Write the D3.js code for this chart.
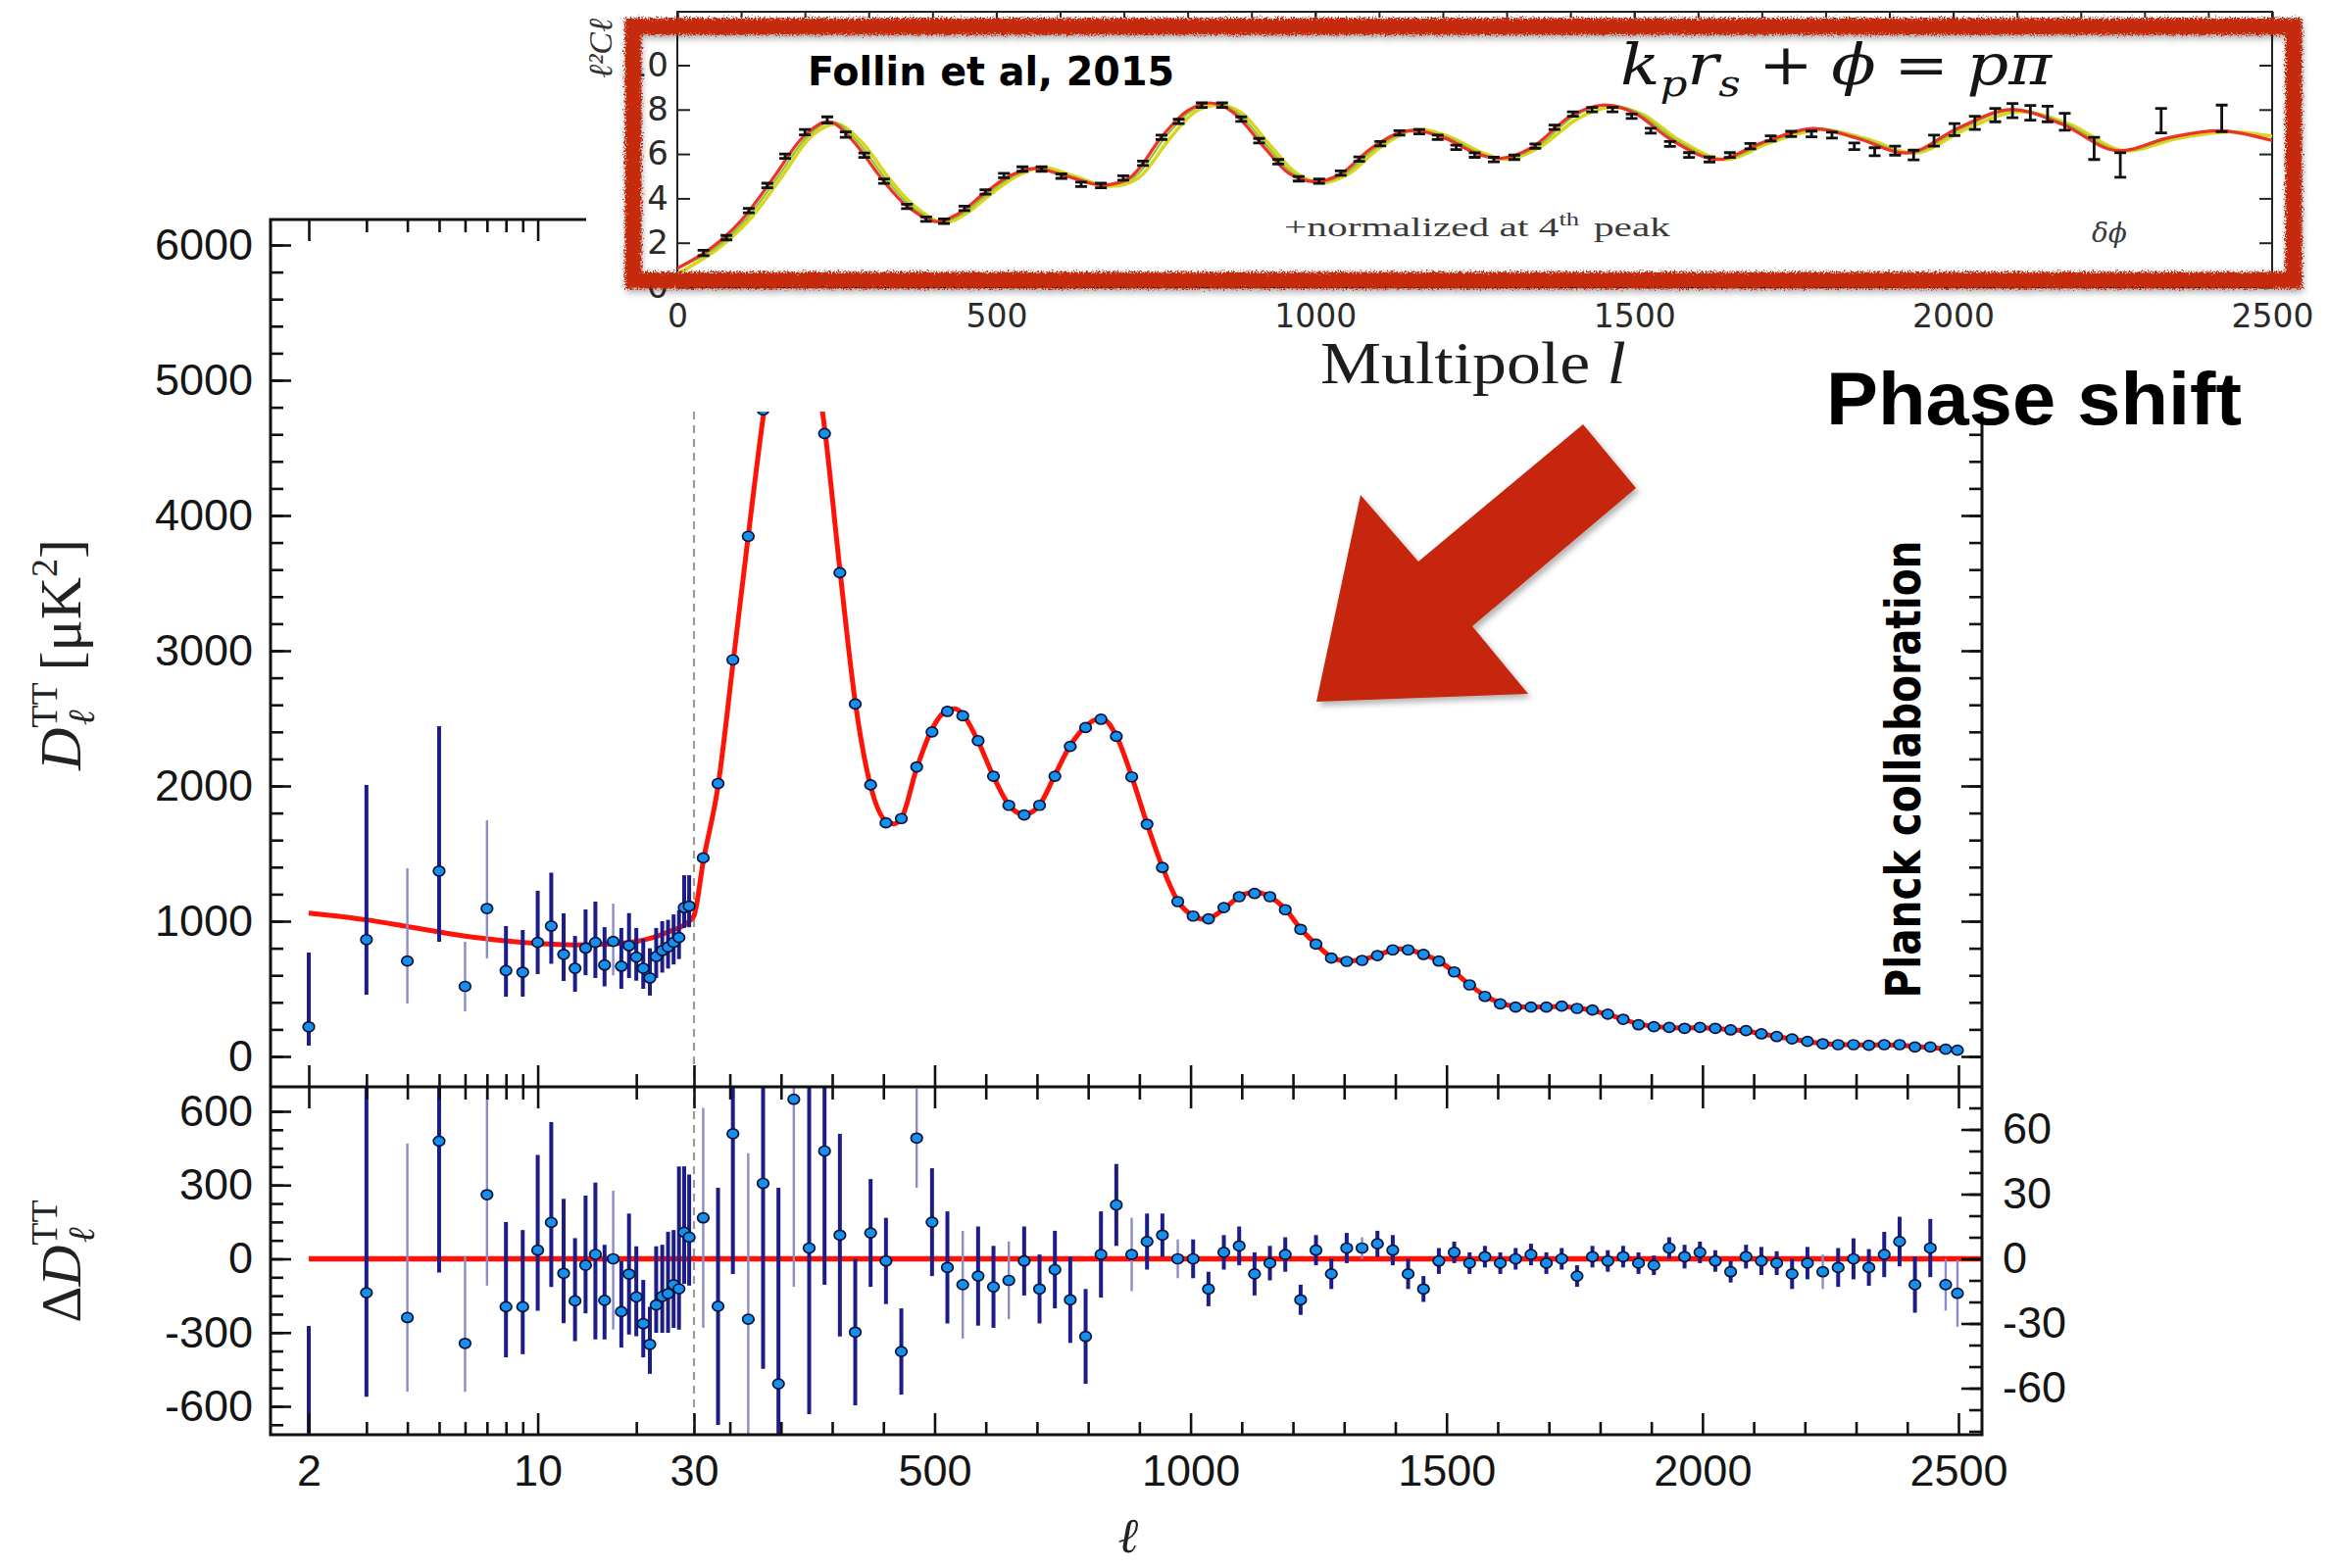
<!DOCTYPE html>
<html>
<head>
<meta charset="utf-8">
<title>CMB temperature power spectrum and acoustic phase shift</title>
<script src="https://cdn.jsdelivr.net/npm/d3@7/dist/d3.min.js"></script>
<style>
  html, body { margin: 0; padding: 0; background: #ffffff; }
  svg { display: block; }
</style>
</head>
<body>
<svg id="chart" width="2375" height="1600" xmlns="http://www.w3.org/2000/svg"></svg>
<script>
// ---------------- Planck TT spectrum: low-ℓ (2–29) unbinned points ----------------
const lowL     = [2,3,4,5,6,7,8,9,10,11,12,13,14,15,16,17,18,19,20,21,22,23,24,25,26,27,28,29];
const lowD     = [219,864,706,1371,518,1094,635,623,843,964,755,652,801,843,676,851,667,819,735,652,580,739,783,809,843,880,1100,1112];
const lowDLo   = [80,457,391,848,333,725,442,442,609,685,558,478,601,580,518,600,500,580,560,500,450,580,620,650,680,720,950,955];
const lowDHi   = [768,2007,1391,2442,848,1746,964,935,1225,1359,1058,891,1087,1145,956,1130,950,1060,950,870,800,950,1000,1010,1050,1080,1340,1340];
const lowRes   = [-840,-138,-239,479,-344,261,-195,-195,35,148,-59,-171,-26,18,-169,0,-215,-62,-155,-264,-348,-188,-153,-142,-105,-122,108,88];
const lowResLo = [-1400,-561,-541,-56,-541,-109,-401,-388,-211,-115,-262,-335,-222,-328,-328,-288,-361,-308,-315,-401,-468,-301,-301,-301,-281,-288,-102,-109];
const lowResHi = [-273,997,469,1400,11,900,150,117,423,556,244,84,257,310,57,277,-9,184,51,-86,-195,51,57,110,117,376,376,343];
const lowFaint = [4,6,7,17];

// ---------------- Planck TT spectrum: binned points (ℓ ≥ 30) ----------------
const highL = [48,77,106,136,165,195,225,255,285,315,345,375,405,435,465,495,525,555,585,615,645,675,705,735,765,795,825,855,885,915,945,975,1005,1035,1065,1095,1125,1155,1185,1215,1245,1275,1305,1335,1365,1395,1425,1455,1485,1515,1545,1575,1605,1635,1665,1695,1725,1755,1785,1815,1845,1875,1905,1935,1965,1995,2025,2055,2085,2115,2145,2175,2205,2235,2265,2295,2325,2355,2385,2415,2445,2475,2498];
const highD = [1468,2018,2933,3846,4780,5420,5710,5500,4606,3577,2606,2008,1727,1759,2141,2399,2551,2519,2335,2072,1857,1785,1857,2072,2293,2432,2493,2367,2067,1717,1397,1145,1038,1017,1101,1181,1205,1181,1085,940,831,727,703,710,746,788,788,754,705,625,529,444,389,365,365,365,372,355,343,312,275,234,220,215,208,215,208,196,191,167,147,130,111,94,87,87,82,87,87,70,70,53,46];
const highRes = [19,-22,58,-28,35,-58,74,5,50,11,-34,12,-1,-43,56,17,-4,-12,-8,-13,-10,-1,-14,-5,-19,-36,2,25,2,8,11,0,0,-14,3,6,-7,-2,2,-19,4,-7,5,5,7,4,-7,-14,-1,3,-2,1,-2,0,2,-2,0,-8,1,-1,1,-2,-3,5,1,3,-1,-6,1,-1,-2,-7,-2,-6,-4,0,-4,2,8,-12,5,-12,-16];
const highErr = [51,55,65,77,86,91,87,77,62,47,34,25,20,20,23,25,26,25,23,19,18,16,16,18,20,22,20,19,17,13,10,9,9,8,8,9,10,8,8,7,7,7,7,5,6,7,7,6,6,5,5,5,5,5,5,5,5,5,5,5,5,5,4.5,5,5.5,5,5,5,5.5,6.5,5.5,7,7.5,8,9,9.5,8.5,10.5,11.5,13,13.5,12,15.5];
const highFaint = [48,136,225,465,555,645,885,975,1335,2235,2475,2498];

// ---------------- best-fit ΛCDM model ----------------
const modelL = [2,3,4,5,6,8,10,13,16,20,25,29,30,48,77,106,136,166,196,221,246,285,315,345,375,405,420,435,465,495,525,540,555,585,615,645,675,705,735,765,795,815,830,855,885,915,945,975,1005,1025,1035,1065,1095,1125,1155,1185,1215,1245,1275,1305,1335,1365,1395,1410,1425,1455,1485,1515,1545,1575,1605,1635,1665,1695,1725,1755,1785,1815,1845,1875,1905,1935,1965,1995,2025,2055,2085,2115,2145,2175,2205,2235,2265,2295,2325,2355,2385,2415,2445,2475,2500];
const modelD = [1060,1010,960,920,890,855,835,825,830,850,920,1000,1040,1440,2000,2900,3850,4750,5450,5720,5550,4650,3600,2620,2000,1740,1720,1760,2130,2420,2560,2570,2530,2330,2070,1860,1790,1860,2080,2300,2440,2490,2490,2370,2070,1720,1400,1150,1040,1015,1020,1090,1180,1215,1180,1090,945,830,735,705,715,750,785,795,790,755,705,625,530,450,395,370,365,368,370,358,340,310,275,240,222,215,211,212,208,197,188,168,148,128,110,96,88,86,85,86,84,74,67,55,47];

// ---------------- axis ticks and labels ----------------
const xMajor = [2,10,30,500,1000,1500,2000,2500];
const xMinor = [3,4,5,6,7,8,9,20,100,200,300,400,600,700,800,900,1100,1200,1300,1400,1600,1700,1800,1900,2100,2200,2300,2400];
const xTickLabels = ["2","10","30","500","1000","1500","2000","2500"];
const yTopMajor = [0,1000,2000,3000,4000,5000,6000];
const yTopLabels = ["0","1000","2000","3000","4000","5000","6000"];
const yResLMajor = [600,300,0,-300,-600];
const yResLLabels = ["600","300","0","-300","-600"];
const yResRMajor = [60,30,0,-30,-60];
const yResRLabels = ["60","30","0","-30","-60"];

// ---------------- normalised spectrum panel (Follin et al. 2015) ----------------
const insetL = [41,77,112,141,169,200,235,264,293,324,360,390,418,450,483,512,541,571,602,633,664,699,730,759,786,822,854,884,912,942,974,1006,1040,1069,1102,1132,1163,1192,1221,1250,1280,1312,1345,1375,1404,1434,1466,1496,1526,1556,1586,1618,1650,1682,1714,1746,1778,1810,1845,1877,1909,1938,1970,2002,2034,2066,2093,2121,2148,2175,2221,2262,2326,2421];
const insetV = [1.54,2.23,3.45,4.58,5.9,6.98,7.53,6.87,5.94,4.77,3.64,3.06,2.97,3.55,4.29,5.03,5.32,5.32,5.0,4.63,4.58,4.92,5.58,6.75,7.47,8.2,8.2,7.57,6.6,5.65,4.88,4.77,5.14,5.77,6.46,6.95,7.0,6.75,6.3,5.95,5.75,5.85,6.35,7.2,7.8,8.0,8.0,7.7,7.05,6.45,5.95,5.75,5.95,6.35,6.7,6.9,6.9,6.85,6.35,6.1,6.15,5.95,6.6,7.1,7.4,7.75,7.95,7.85,7.8,7.45,6.25,5.5,7.5,7.6];
const insetErr = [0.12,0.1,0.1,0.1,0.1,0.12,0.14,0.12,0.1,0.1,0.1,0.1,0.1,0.1,0.1,0.1,0.1,0.1,0.1,0.1,0.1,0.1,0.1,0.1,0.1,0.1,0.1,0.1,0.1,0.1,0.1,0.1,0.1,0.1,0.1,0.1,0.1,0.1,0.1,0.1,0.1,0.1,0.1,0.1,0.1,0.1,0.1,0.1,0.11,0.11,0.11,0.11,0.11,0.12,0.12,0.12,0.13,0.13,0.15,0.18,0.2,0.22,0.25,0.27,0.3,0.3,0.32,0.33,0.35,0.38,0.5,0.55,0.55,0.6];
const redL = [0,50,100,150,200,238,275,320,360,405,440,480,520,560,610,665,710,760,800,835,870,920,960,1000,1040,1090,1145,1200,1250,1290,1340,1400,1450,1500,1560,1630,1700,1780,1850,1930,2010,2090,2170,2255,2340,2420,2500];
const redV = [0.85,1.7,3.0,4.9,6.85,7.45,6.6,4.9,3.65,2.95,3.3,4.2,5.0,5.35,5.0,4.6,4.95,6.8,7.95,8.3,7.9,6.3,5.1,4.75,5.1,6.3,7.05,6.75,6.05,5.8,6.3,7.7,8.2,7.85,6.6,5.75,6.5,7.15,6.7,6.05,7.2,8.0,7.35,6.15,6.75,7.05,6.6];
const greenL = [0,56,106,156,206,244,281,326,366,411,446,486,526,566,616,671,716,766,806,841,876,926,966,1006,1046,1096,1151,1206,1256,1296,1346,1406,1456,1506,1566,1636,1706,1786,1856,1936,2016,2096,2176,2261,2346,2426,2500];
const yellowL = [0,62,112,162,212,250,287,332,372,417,452,492,532,572,622,677,722,772,812,847,882,932,972,1012,1052,1102,1157,1212,1262,1302,1352,1412,1462,1512,1572,1642,1712,1792,1862,1942,2022,2102,2182,2267,2352,2432,2500];
const yellowV = [0.6,1.7,3.0,4.9,6.85,7.35,6.6,4.9,3.65,2.9,3.3,4.2,5.0,5.4,5.0,4.55,4.9,6.7,7.9,8.2,7.9,6.3,5.1,4.7,5.1,6.3,7.1,6.75,6.05,5.75,6.3,7.6,8.1,7.8,6.6,5.75,6.5,7.1,6.7,6.05,7.15,7.9,7.35,6.15,6.7,7.0,6.8];
const insetXTicks = [0,500,1000,1500,2000,2500];
const insetXLabels = ["0","500","1000","1500","2000","2500"];
const insetYTicks = [0,2,4,6,8,10];
const insetYLabels = ["0","2","4","6","8","10"];

// ======================================================================
const FONT = "'Liberation Sans', Arial, Helvetica, sans-serif";
const NARROW = "'Liberation Sans Narrow', 'Arial Narrow', 'DejaVu Sans Condensed', 'Liberation Sans', sans-serif";
const SERIF = "'Liberation Serif', 'DejaVu Serif', 'Times New Roman', serif";
const SERIF2 = "'DejaVu Serif', 'Liberation Serif', serif";
const INK = "#111";
const RED = "#ff1208";
const DOT = "#1690ec";
const DOT_EDGE = "#0b1238";
const BAR = "#1c1c8a";
const BAR_FAINT = "#8c8cc9";

const svg = d3.select("#chart");
const defs = svg.append("defs");
svg.append("rect").attr("width", 2375).attr("height", 1600).attr("fill", "#fff");

// frame geometry of the two stacked panels
const F = { left: 276, right: 2022, top: 224, mid: 1109, bottom: 1464 };

// hybrid multipole axis: logarithmic for 2 ≤ ℓ ≤ 30, linear above
const xLog = d3.scaleLog().domain([2, 30]).range([315, 708]);
const xLin = d3.scaleLinear().domain([30, 2500]).range([708, 1998]);
function xEll(l) { return l <= 30 ? xLog(l) : xLin(l); }
xEll.domain = () => [2, 2500];
xEll.range = () => [315, 1998];
xEll.copy = () => xEll;

const yTop = d3.scaleLinear().domain([0, 6000]).range([1078, 250]);
const yResL = d3.scaleLinear().domain([-600, 600]).range([1435, 1134]);
const yResR = d3.scaleLinear().domain([-60, 60]).range([1416.5, 1152.5]);

defs.append("clipPath").attr("id", "clipTop").append("rect")
  .attr("x", F.left).attr("y", F.top).attr("width", F.right - F.left).attr("height", F.mid - F.top);
defs.append("clipPath").attr("id", "clipRes").append("rect")
  .attr("x", F.left).attr("y", F.mid).attr("width", F.right - F.left).attr("height", F.bottom - F.mid);

// ---- dashed separator between low-ℓ and high-ℓ regimes ----
svg.append("line")
  .attr("x1", xEll(30)).attr("x2", xEll(30)).attr("y1", F.top).attr("y2", F.bottom)
  .attr("stroke", "#9a9a9a").attr("stroke-width", 2.2).attr("stroke-dasharray", "8 6");

// ---- upper panel: spectrum ----
const upper = svg.append("g").attr("clip-path", "url(#clipTop)");
upper.append("path")
  .datum(d3.zip(modelL, modelD))
  .attr("d", d3.line().x(d => xEll(d[0])).y(d => yTop(d[1])).curve(d3.curveMonotoneX))
  .attr("fill", "none").attr("stroke", RED).attr("stroke-width", 5).attr("stroke-linejoin", "round");

const lowIdx = d3.range(lowL.length);
const highIdx = d3.range(highL.length);

upper.append("g").selectAll("line").data(lowIdx).join("line")
  .attr("x1", i => xEll(lowL[i])).attr("x2", i => xEll(lowL[i]))
  .attr("y1", i => yTop(lowDLo[i])).attr("y2", i => yTop(lowDHi[i]))
  .attr("stroke", i => lowFaint.includes(lowL[i]) ? BAR_FAINT : BAR)
  .attr("stroke-width", i => lowFaint.includes(lowL[i]) ? 2.4 : 4);

function dots(g, xs, ys) {
  g.append("g").selectAll("ellipse").data(d3.range(xs.length)).join("ellipse")
    .attr("cx", i => xs[i]).attr("cy", i => ys[i])
    .attr("rx", 5.8).attr("ry", 5)
    .attr("fill", DOT).attr("stroke", DOT_EDGE).attr("stroke-width", 1.7);
}
dots(upper, lowL.map(l => xEll(l)), lowD.map(v => yTop(v)));
dots(upper, highL.map(l => xEll(l)), highD.map(v => yTop(v)));

// ---- lower panel: residuals ----
const lower = svg.append("g").attr("clip-path", "url(#clipRes)");
lower.append("line")
  .attr("x1", xEll(2)).attr("x2", F.right).attr("y1", yResL(0)).attr("y2", yResL(0))
  .attr("stroke", RED).attr("stroke-width", 5.5);

lower.append("g").selectAll("line").data(lowIdx).join("line")
  .attr("x1", i => xEll(lowL[i])).attr("x2", i => xEll(lowL[i]))
  .attr("y1", i => yResL(lowResLo[i])).attr("y2", i => yResL(lowResHi[i]))
  .attr("stroke", i => lowFaint.includes(lowL[i]) ? BAR_FAINT : BAR)
  .attr("stroke-width", i => lowFaint.includes(lowL[i]) ? 2.4 : 4);
lower.append("g").selectAll("line").data(highIdx).join("line")
  .attr("x1", i => xEll(highL[i])).attr("x2", i => xEll(highL[i]))
  .attr("y1", i => yResR(highRes[i] - highErr[i])).attr("y2", i => yResR(highRes[i] + highErr[i]))
  .attr("stroke", i => highFaint.includes(highL[i]) ? BAR_FAINT : BAR)
  .attr("stroke-width", i => highFaint.includes(highL[i]) ? 2.4 : 4);
dots(lower, lowL.map(l => xEll(l)), lowRes.map(v => yResL(v)));
dots(lower, highL.map(l => xEll(l)), highRes.map(v => yResR(v)));

// ---- frame ----
const frameG = svg.append("g").attr("stroke", INK).attr("stroke-width", 3).attr("fill", "none");
frameG.append("rect").attr("x", F.left).attr("y", F.top).attr("width", F.right - F.left).attr("height", F.bottom - F.top);
frameG.append("line").attr("x1", F.left).attr("x2", F.right).attr("y1", F.mid).attr("y2", F.mid);

function tickAxis(axis, transform) {
  const g = svg.append("g").attr("transform", transform).call(axis);
  g.select(".domain").remove();
  g.selectAll(".tick text").remove();
  g.selectAll(".tick line").attr("stroke", INK).attr("stroke-width", 2.6);
  return g;
}
function labelAxis(axis, transform, size, family) {
  const g = svg.append("g").attr("transform", transform).call(axis);
  g.select(".domain").remove();
  g.attr("font-size", size).attr("font-family", family).attr("color", "#151515");
  return g;
}

// multipole ticks on every horizontal frame line, pointing into the panels
[[F.top, d3.axisBottom], [F.mid, d3.axisTop], [F.mid, d3.axisBottom], [F.bottom, d3.axisTop]].forEach(([y, make]) => {
  tickAxis(make(xEll).tickValues(xMajor).tickSize(22).tickFormat(""), `translate(0,${y})`);
  tickAxis(make(xEll).tickValues(xMinor).tickSize(13).tickFormat(""), `translate(0,${y})`);
});
labelAxis(d3.axisBottom(xEll).tickValues(xMajor).tickSize(0).tickPadding(20).tickFormat((d, i) => xTickLabels[i]),
  `translate(0,${F.bottom})`, 45, FONT);

// upper panel y ticks (left and right)
tickAxis(d3.axisRight(yTop).tickValues(yTopMajor).tickSize(21).tickFormat(""), `translate(${F.left},0)`);
tickAxis(d3.axisRight(yTop).tickValues(d3.range(0, 6001, 200)).tickSize(13).tickFormat(""), `translate(${F.left},0)`);
tickAxis(d3.axisLeft(yTop).tickValues(yTopMajor).tickSize(21).tickFormat(""), `translate(${F.right},0)`);
tickAxis(d3.axisLeft(yTop).tickValues(d3.range(0, 6001, 200)).tickSize(13).tickFormat(""), `translate(${F.right},0)`);
labelAxis(d3.axisLeft(yTop).tickValues(yTopMajor).tickSize(0).tickPadding(18).tickFormat((d, i) => yTopLabels[i]),
  `translate(${F.left},0)`, 45, FONT);

// lower panel y ticks: left scale for ℓ < 30, right scale for ℓ ≥ 30
tickAxis(d3.axisRight(yResL).tickValues(yResLMajor).tickSize(21).tickFormat(""), `translate(${F.left},0)`);
tickAxis(d3.axisRight(yResL).tickValues(d3.range(-675, 601, 75)).tickSize(13).tickFormat(""), `translate(${F.left},0)`);
tickAxis(d3.axisLeft(yResR).tickValues(yResRMajor).tickSize(21).tickFormat(""), `translate(${F.right},0)`);
tickAxis(d3.axisLeft(yResR).tickValues(d3.range(-80, 71, 10)).tickSize(13).tickFormat(""), `translate(${F.right},0)`);
labelAxis(d3.axisLeft(yResL).tickValues(yResLMajor).tickSize(0).tickPadding(18).tickFormat((d, i) => yResLLabels[i]),
  `translate(${F.left},0)`, 45, FONT);
labelAxis(d3.axisRight(yResR).tickValues(yResRMajor).tickSize(0).tickPadding(21).tickFormat((d, i) => yResRLabels[i]),
  `translate(${F.right},0)`, 45, FONT);

// axis titles
const t1 = svg.append("text").attr("transform", "translate(82,668) rotate(-90)")
  .attr("text-anchor", "middle").attr("font-family", SERIF).attr("font-size", 60).attr("fill", "#222");
t1.append("tspan").attr("font-style", "italic").text("D");
t1.append("tspan").attr("font-size", 38).attr("dy", -24).text("TT");
t1.append("tspan").attr("font-size", 38).attr("font-style", "italic").attr("dx", -44).attr("dy", 38).text("ℓ");
t1.append("tspan").attr("dx", 40).attr("dy", -14).text("[μK");
t1.append("tspan").attr("font-size", 38).attr("dy", -24).text("2");
t1.append("tspan").attr("dy", 24).text("]");

const t2 = svg.append("text").attr("transform", "translate(82,1287) rotate(-90)")
  .attr("text-anchor", "middle").attr("font-family", SERIF).attr("font-size", 58).attr("fill", "#222");
t2.append("tspan").text("Δ");
t2.append("tspan").attr("font-style", "italic").text("D");
t2.append("tspan").attr("font-size", 38).attr("dy", -24).text("TT");
t2.append("tspan").attr("font-size", 38).attr("font-style", "italic").attr("dx", -44).attr("dy", 38).text("ℓ");

svg.append("text").attr("x", 1151).attr("y", 1584).attr("text-anchor", "middle")
  .attr("font-family", SERIF2).attr("font-style", "italic").attr("font-size", 50).attr("fill", "#222").text("ℓ");

// ======================================================================
// normalised-spectrum panel laid over the upper part of the figure
svg.append("rect").attr("x", 598).attr("y", 0).attr("width", 1777).attr("height", 420).attr("fill", "#fff");

const xIn = d3.scaleLinear().domain([0, 2500]).range([691, 2318]);
const yIn = d3.scaleLinear().domain([0, 10]).range([293, 66.5]);
defs.append("clipPath").attr("id", "clipInset").append("rect")
  .attr("x", 691).attr("y", 12).attr("width", 1627).attr("height", 281);

const inset = svg.append("g");
inset.append("rect").attr("x", 691).attr("y", 12).attr("width", 1627).attr("height", 281)
  .attr("fill", "none").attr("stroke", "#222").attr("stroke-width", 2);

function insetTicks(axis, transform) {
  const g = inset.append("g").attr("transform", transform).call(axis);
  g.select(".domain").remove();
  g.selectAll(".tick text").remove();
  g.selectAll(".tick line").attr("stroke", "#222").attr("stroke-width", 2);
}
insetTicks(d3.axisRight(yIn).tickValues(insetYTicks).tickSize(13).tickFormat(""), "translate(691,0)");
insetTicks(d3.axisLeft(yIn).tickValues(insetYTicks).tickSize(13).tickFormat(""), "translate(2318,0)");
insetTicks(d3.axisBottom(xIn).tickValues(insetXTicks).tickSize(12).tickFormat(""), "translate(0,12)");
insetTicks(d3.axisBottom(xIn).tickValues(d3.range(0, 2501, 100)).tickSize(6).tickFormat(""), "translate(0,12)");
insetTicks(d3.axisTop(xIn).tickValues(insetXTicks).tickSize(12).tickFormat(""), "translate(0,293)");
insetTicks(d3.axisTop(xIn).tickValues(d3.range(0, 2501, 100)).tickSize(6).tickFormat(""), "translate(0,293)");

const gxl = inset.append("g").attr("transform", "translate(0,293)")
  .call(d3.axisBottom(xIn).tickValues(insetXTicks).tickSize(0).tickPadding(18).tickFormat((d, i) => insetXLabels[i]));
gxl.select(".domain").remove();
gxl.attr("font-size", 33).attr("font-family", "'DejaVu Sans', sans-serif").attr("color", "#2a2a2a");
const gyl = inset.append("g").attr("transform", "translate(691,0)")
  .call(d3.axisLeft(yIn).tickValues(insetYTicks).tickSize(0).tickPadding(9).tickFormat((d, i) => insetYLabels[i]));
gyl.select(".domain").remove();
gyl.attr("font-size", 34).attr("font-family", "'DejaVu Sans', sans-serif").attr("color", "#2a2a2a");

// fragment of the rotated y label at the top-left corner
inset.append("text").attr("transform", "translate(624,80) rotate(-90)")
  .attr("font-family", SERIF).attr("font-style", "italic").attr("font-size", 34).attr("fill", "#333").text("ℓ²Cℓ");

const inPlot = inset.append("g").attr("clip-path", "url(#clipInset)");
const inLine = d3.line().x(d => xIn(d[0])).y(d => yIn(d[1])).curve(d3.curveCatmullRom.alpha(0.5));
inPlot.append("path").datum(d3.zip(yellowL, yellowV)).attr("d", inLine)
  .attr("fill", "none").attr("stroke", "#d9d51c").attr("stroke-width", 3.5);
inPlot.append("path").datum(d3.zip(greenL, redV)).attr("d", inLine)
  .attr("fill", "none").attr("stroke", "#8cc43c").attr("stroke-width", 2.2);
inPlot.append("path").datum(d3.zip(redL, redV)).attr("d", inLine)
  .attr("fill", "none").attr("stroke", "#ec3328").attr("stroke-width", 3.2);

inPlot.append("g").selectAll("path").data(d3.range(insetL.length)).join("path")
  .attr("d", i => {
    const x = xIn(insetL[i]), y0 = yIn(insetV[i] - insetErr[i]), y1 = yIn(insetV[i] + insetErr[i]);
    return `M${x - 6},${y0}H${x + 6}M${x},${y0}V${y1}M${x - 6},${y1}H${x + 6}`;
  })
  .attr("fill", "none").attr("stroke", "#111").attr("stroke-width", 2.8);

// inset annotations
const norm = inset.append("text").attr("x", 1310).attr("y", 241)
  .attr("font-family", SERIF).attr("font-size", 28).attr("fill", "#3a3a3a")
  .attr("textLength", 394).attr("lengthAdjust", "spacingAndGlyphs");
norm.append("tspan").text("+normalized at 4");
norm.append("tspan").attr("font-size", 18).attr("dy", -11).text("th");
norm.append("tspan").attr("dx", 10).attr("dy", 11).text("peak");

inset.append("text").attr("x", 2134).attr("y", 247)
  .attr("font-family", SERIF2).attr("font-style", "italic").attr("font-size", 28).attr("fill", "#3a3a3a").text("δϕ");

const eq = inset.append("text").attr("x", 1653).attr("y", 86)
  .attr("font-family", SERIF2).attr("font-size", 58).attr("fill", "#151515")
  .attr("textLength", 440).attr("lengthAdjust", "spacingAndGlyphs");
eq.append("tspan").attr("font-style", "italic").text("k");
eq.append("tspan").attr("font-style", "italic").attr("font-size", 38).attr("dy", 12).text("p");
eq.append("tspan").attr("font-style", "italic").attr("dy", -12).text("r");
eq.append("tspan").attr("font-style", "italic").attr("font-size", 38).attr("dy", 12).text("s");
eq.append("tspan").attr("dx", 16).attr("dy", -12).text("+");
eq.append("tspan").attr("dx", 16).attr("font-style", "italic").text("ϕ");
eq.append("tspan").attr("dx", 16).text("=");
eq.append("tspan").attr("dx", 16).attr("font-style", "italic").text("pπ");

inset.append("text").attr("x", 1503).attr("y", 391).attr("text-anchor", "middle")
  .attr("font-family", SERIF).attr("font-size", 62).attr("fill", "#1d1d1d")
  .attr("textLength", 312).attr("lengthAdjust", "spacingAndGlyphs")
  .call(t => { t.append("tspan").text("Multipole "); t.append("tspan").attr("font-style", "italic").text("l"); });

inset.append("text").attr("x", 824).attr("y", 87)
  .attr("font-family", NARROW).attr("font-weight", "bold").attr("font-size", 40).attr("fill", "#000")
  .attr("textLength", 374).attr("lengthAdjust", "spacingAndGlyphs").text("Follin et al, 2015");

// hand-drawn style red outline around the panel
const rough = defs.append("filter").attr("id", "rough").attr("filterUnits", "userSpaceOnUse")
  .attr("x", 580).attr("y", 0).attr("width", 1820).attr("height", 340);
rough.append("feTurbulence").attr("type", "fractalNoise").attr("baseFrequency", "0.6")
  .attr("numOctaves", 2).attr("seed", 7).attr("result", "noise");
rough.append("feDisplacementMap").attr("in", "SourceGraphic").attr("in2", "noise").attr("scale", 10)
  .attr("xChannelSelector", "R").attr("yChannelSelector", "G").attr("result", "disp");
rough.append("feDropShadow").attr("in", "disp").attr("dx", 1).attr("dy", 4).attr("stdDeviation", 3)
  .attr("flood-color", "#000").attr("flood-opacity", 0.3);
svg.append("rect").attr("x", 646).attr("y", 27).attr("width", 1694).attr("height", 259)
  .attr("fill", "none").attr("stroke", "#c6290f").attr("stroke-width", 17).attr("filter", "url(#rough)");

// ======================================================================
// annotations
const shadowF = defs.append("filter").attr("id", "shadow").attr("x", "-10%").attr("y", "-10%").attr("width", "130%").attr("height", "130%");
shadowF.append("feDropShadow").attr("dx", 3).attr("dy", 4).attr("stdDeviation", 3)
  .attr("flood-color", "#000").attr("flood-opacity", 0.3);
const arrowPts = [[1615, 433], [1669, 498], [1502, 639], [1559, 708], [1343, 716], [1388, 505], [1447, 573]];
svg.append("path").attr("d", d3.line()(arrowPts) + "Z").attr("fill", "#c5270b").attr("filter", "url(#shadow)");

svg.append("text").attr("x", 1863).attr("y", 433)
  .attr("font-family", FONT).attr("font-weight", "bold").attr("font-size", 76).attr("fill", "#000")
  .attr("textLength", 424).attr("lengthAdjust", "spacingAndGlyphs").text("Phase shift");

svg.append("text").attr("transform", "translate(1959,785) rotate(-90)").attr("text-anchor", "middle")
  .attr("font-family", NARROW).attr("font-weight", "bold").attr("font-size", 50).attr("fill", "#000")
  .attr("textLength", 467).attr("lengthAdjust", "spacingAndGlyphs").text("Planck collaboration");
</script>
</body>
</html>
